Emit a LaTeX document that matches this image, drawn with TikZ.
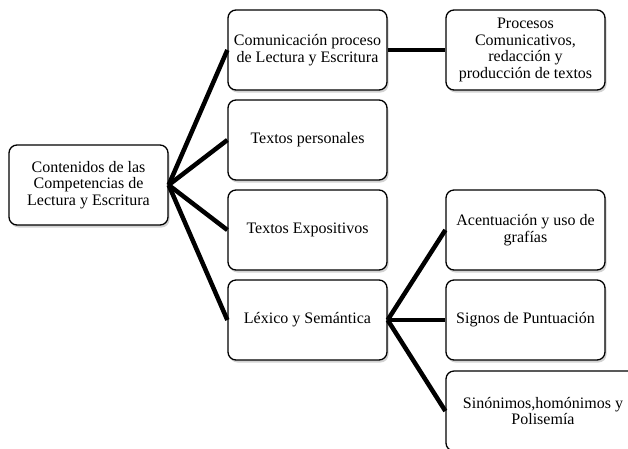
\documentclass[tikz,border=0pt]{standalone}
\usepackage{fontspec}
\setmainfont{Liberation Serif}
\usetikzlibrary{shadows}
\begin{document}
\begin{tikzpicture}[x=1pt,y=-1pt,
  box/.style={draw=black, line width=1.3pt, rounded corners=8pt, fill=white,
    minimum width=159pt, minimum height=80pt, inner sep=0pt, align=center,
    font=\fontsize{16}{16.8}\selectfont,
    drop shadow={opacity=0.35, shadow xshift=1.5pt, shadow yshift=-2.5pt}},
  wide/.style={minimum width=194pt},
  link/.style={line width=4.5pt, black}]
\useasboundingbox (0,0) rectangle (628,448);
\node[box] (root) at (88.5,185) {Contenidos de las\\Competencias de\\Lectura y Escritura};
\node[box] (com) at (307.5,50) {Comunicación proceso\\de Lectura y Escritura};
\node[box] (per) at (307.5,140) {Textos personales};
\node[box] (exp) at (307.5,230) {Textos Expositivos};
\node[box] (lex) at (307.5,320) {Léxico y Semántica};
\node[box] (pro) at (525.5,50) {Procesos\\Comunicativos,\\redacción y\\producción de textos};
\node[box] (ace) at (525.5,230) {Acentuación y uso de\\grafías};
\node[box] (sig) at (525.5,320) {Signos de Puntuación};
\node[box,wide] (sin) at (543,411) {Sinónimos,homónimos y\\Polisemía};
\foreach \t in {com,per,exp,lex} \draw[link] (root.east) -- (\t.west);
\draw[link] (com.east) -- (pro.west);
\foreach \t in {ace,sig,sin} \draw[link] (lex.east) -- (\t.west);
\end{tikzpicture}
\end{document}
